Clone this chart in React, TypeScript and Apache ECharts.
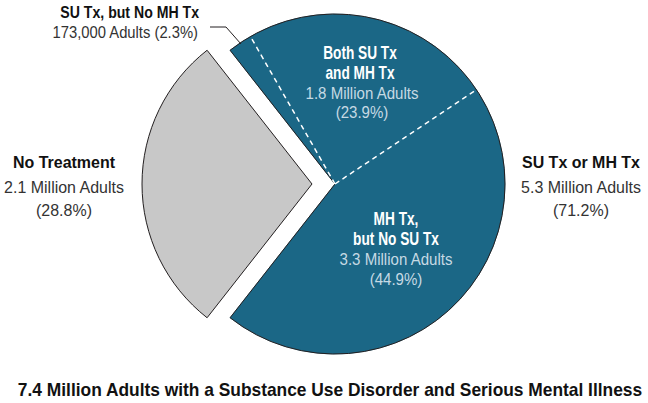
import React, { useEffect, useRef } from "react";
import * as echarts from "echarts";

// Treatment groups among adults with SUD and SMI
const categories = ["SU Tx, but No MH Tx", "Both SU Tx and MH Tx", "MH Tx, but No SU Tx", "No Treatment"];
const adultCounts = ["173,000 Adults", "1.8 Million Adults", "3.3 Million Adults", "2.1 Million Adults"];
const percents = [2.3, 23.9, 44.9, 28.8];

// Combined treated group
const treatedLabel = "SU Tx or MH Tx";
const treatedAdults = "5.3 Million Adults";
const treatedPercent = 71.2;

const chartTitle = "7.4 Million Adults with a Substance Use Disorder and Serious Mental Illness";

const BLUE = "#1b6786";
const GRAY = "#c8c8c8";
const EDGE = "#231f20";
const LIGHT = "#c6dae4";
const FONT = "'Liberation Sans', Arial, sans-serif";

const pct = (v: number) => `(${v.toFixed(1)}%)`;

export default function App() {
  const ref = useRef<HTMLDivElement>(null);

  useEffect(() => {
    if (!ref.current) return;
    const chart = echarts.init(ref.current, null, { renderer: "svg" });

    const total = percents.reduce((a, b) => a + b, 0);
    const treatedSum = percents[0] + percents[1] + percents[2];
    // rotate so the untreated slice faces left and the treated wedge faces right
    const startAngle = (180 * treatedSum) / total;
    const R = 170;
    const grayCenter = [312, 184];
    const blueCenter = [335, 184];

    const baseData = (style: (i: number) => any) =>
      percents.map((v, i) => ({ value: v, name: categories[i], itemStyle: style(i) }));

    const pieCommon = {
      type: "pie",
      radius: [0, R],
      startAngle,
      clockwise: true,
      silent: true,
      label: { show: false },
      labelLine: { show: false },
      emphasis: { disabled: true },
    };

    const boundaries = [percents[0], percents[0] + percents[1]];

    // condensed text: horizontal squeeze around the anchor point
    const text = (
      t: string,
      x: number,
      y: number,
      fill: string,
      weight: string,
      size: number,
      squeeze: number,
      align = "center"
    ) => ({
      type: "text",
      x,
      y,
      z: 100,
      scaleX: squeeze,
      silent: true,
      style: {
        text: t,
        x: 0,
        y: 0,
        align,
        verticalAlign: "middle",
        font: `${weight} ${size}px ${FONT}`,
        fill,
      },
    });

    chart.setOption({
      animation: false,
      polar: { center: blueCenter, radius: R },
      angleAxis: {
        type: "value",
        min: 0,
        max: total,
        startAngle,
        clockwise: true,
        show: false,
      },
      radiusAxis: { type: "value", min: 0, max: 1, show: false },
      series: [
        {
          ...pieCommon,
          center: grayCenter,
          data: baseData((i) =>
            i === 3
              ? { color: GRAY, borderColor: EDGE, borderWidth: 1 }
              : { color: "transparent", borderWidth: 0 }
          ),
        },
        {
          ...pieCommon,
          center: blueCenter,
          data: baseData((i) =>
            i === 3
              ? { color: "transparent", borderWidth: 0 }
              : { color: BLUE, borderColor: BLUE, borderWidth: 0.6 }
          ),
        },
        {
          ...pieCommon,
          center: blueCenter,
          data: [
            { value: treatedSum, name: treatedLabel, itemStyle: { color: "transparent", borderColor: EDGE, borderWidth: 1 } },
            { value: percents[3], name: categories[3], itemStyle: { color: "transparent", borderWidth: 0 } },
          ],
        },
        ...boundaries.map((b) => ({
          type: "line",
          coordinateSystem: "polar",
          silent: true,
          symbol: "none",
          z: 5,
          lineStyle: { color: "#ffffff", width: 1.5, type: [5, 4] },
          data: [
            [0, b],
            [0.995, b],
          ],
        })),
      ],
      graphic: [
        // small slice callout
        text(categories[0], 199, 12, "#111", "bold", 17, 0.83, "right"),
        text(`${adultCounts[0]} ${pct(percents[0])}`, 198, 32, "#333", "normal", 17, 0.87, "right"),
        {
          type: "polyline",
          z: 100,
          silent: true,
          shape: { points: [[210, 27], [226, 27], [241, 44]] },
          style: { stroke: EDGE, lineWidth: 1, fill: null },
        },
        // labels inside the treated wedge
        text("Both SU Tx", 360, 53, "#ffffff", "bold", 18, 0.76),
        text("and MH Tx", 360, 73, "#ffffff", "bold", 18, 0.76),
        text(adultCounts[1], 362, 93, LIGHT, "normal", 17, 0.885),
        text(pct(percents[1]), 362, 112, LIGHT, "normal", 17, 0.885),
        text("MH Tx,", 396, 219, "#ffffff", "bold", 18, 0.76),
        text("but No SU Tx", 396, 239, "#ffffff", "bold", 18, 0.76),
        text(adultCounts[2], 396, 259, LIGHT, "normal", 17, 0.885),
        text(pct(percents[2]), 396, 279, LIGHT, "normal", 17, 0.885),
        // labels outside the pie
        text(categories[3], 64, 162, "#111", "bold", 17, 0.94),
        text(adultCounts[3], 64, 187, "#333", "normal", 17, 0.94),
        text(pct(percents[3]), 64, 210, "#333", "normal", 17, 0.94),
        text(treatedLabel, 581, 162, "#111", "bold", 17, 0.94),
        text(treatedAdults, 581, 187, "#333", "normal", 17, 0.94),
        text(pct(treatedPercent), 581, 210, "#333", "normal", 17, 0.94),
        text(chartTitle, 330, 390, "#111", "bold", 18, 0.965),
      ],
    });

    return () => chart.dispose();
  }, []);

  return (
    <div
      ref={ref}
      style={{ position: "fixed", left: 0, top: 0, width: 648, height: 403, background: "#ffffff" }}
    />
  );
}
